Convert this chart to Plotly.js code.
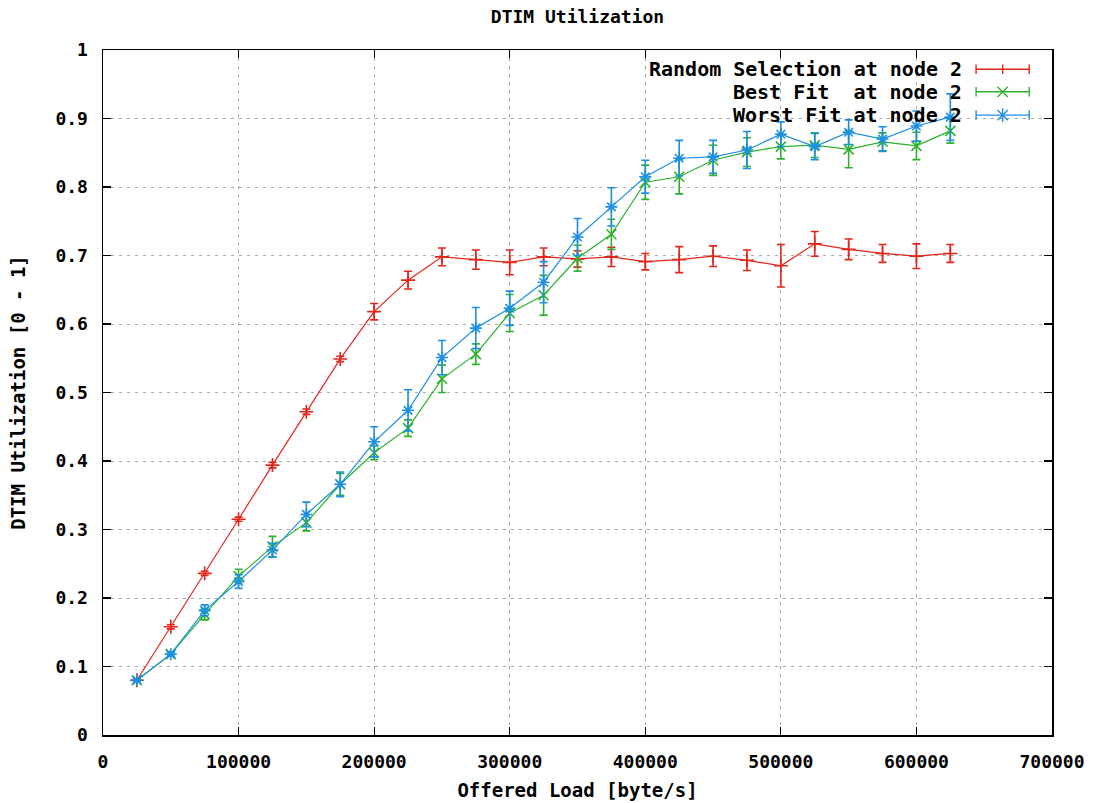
<!DOCTYPE html>
<html>
<head>
<meta charset="utf-8">
<script src="https://cdn.plot.ly/plotly-3.0.1.min.js"></script>
<style>html,body{margin:0;padding:0;background:#fff;}#chart{width:1098px;height:803px;}</style>
</head>
<body>
<div id="chart"></div>
<script>
// Offered load (byte/s)
const offeredLoad = [25000, 50000, 75000, 100000, 125000, 150000, 175000, 200000, 225000, 250000,
  275000, 300000, 325000, 350000, 375000, 400000, 425000, 450000, 475000, 500000,
  525000, 550000, 575000, 600000, 625000];

const randomSel = [0.080, 0.158, 0.236, 0.315, 0.394, 0.472, 0.549, 0.618, 0.664, 0.698,
  0.694, 0.690, 0.698, 0.695, 0.698, 0.691, 0.694, 0.699, 0.693, 0.685,
  0.717, 0.709, 0.703, 0.699, 0.703];
const randomErr = [0.002, 0.003, 0.003, 0.003, 0.004, 0.004, 0.004, 0.012, 0.013, 0.013,
  0.014, 0.018, 0.013, 0.012, 0.014, 0.012, 0.019, 0.015, 0.015, 0.031,
  0.018, 0.015, 0.013, 0.018, 0.013];

const bestFit = [0.080, 0.118, 0.176, 0.232, 0.275, 0.310, 0.366, 0.412, 0.448, 0.520,
  0.556, 0.616, 0.642, 0.696, 0.731, 0.807, 0.815, 0.839, 0.851, 0.859,
  0.861, 0.855, 0.866, 0.860, 0.882];
const bestErr = [0.002, 0.003, 0.008, 0.010, 0.015, 0.012, 0.016, 0.010, 0.012, 0.020,
  0.015, 0.027, 0.029, 0.019, 0.022, 0.025, 0.025, 0.022, 0.021, 0.018,
  0.018, 0.027, 0.013, 0.020, 0.018];

const worstFit = [0.080, 0.118, 0.182, 0.224, 0.270, 0.322, 0.366, 0.428, 0.474, 0.551,
  0.594, 0.623, 0.661, 0.727, 0.771, 0.815, 0.842, 0.844, 0.854, 0.877,
  0.859, 0.880, 0.870, 0.889, 0.902];
const worstErr = [0.002, 0.003, 0.008, 0.010, 0.010, 0.018, 0.018, 0.022, 0.030, 0.025,
  0.030, 0.025, 0.030, 0.027, 0.028, 0.024, 0.026, 0.024, 0.027, 0.018,
  0.019, 0.018, 0.018, 0.022, 0.034];

const seriesNames = ['Random Selection at node 2', 'Best Fit  at node 2', 'Worst Fit at node 2'];
const seriesColors = ['#e3261c', '#2cb22c', '#1c8fe3'];
const seriesSymbols = ['cross-thin-open', 'x-thin-open', 'asterisk-open'];

const monoFont = '"DejaVu Sans Mono", "Liberation Mono", monospace';

function mk(i, y, err) {
  return {
    type: 'scatter', mode: 'lines+markers', name: seriesNames[i],
    x: offeredLoad, y: y,
    line: {color: seriesColors[i], width: 1.2},
    marker: {symbol: seriesSymbols[i], size: 10, color: seriesColors[i], line: {color: seriesColors[i], width: 1.6}},
    error_y: {type: 'data', array: err, visible: true, color: seriesColors[i], thickness: 1.6, width: 4},
    showlegend: false
  };
}

const data = [mk(0, randomSel, randomErr), mk(1, bestFit, bestErr), mk(2, worstFit, worstErr)];

// legend drawn as annotations + shapes (text left of the sample, as in gnuplot)
const rowsY = [0.972, 0.939, 0.905];
const annotations = seriesNames.map((n, i) => ({
  xref: 'paper', yref: 'paper', x: 0.907, y: rowsY[i], xanchor: 'right', yanchor: 'middle',
  text: n.replace(/ /g, '&nbsp;'), showarrow: false,
  font: {family: monoFont, size: 20, color: '#000', weight: 'bold'}
}));
const shapes = [];
const lx0 = 0.920, lx1 = 0.976, lmid = 0.948;
seriesColors.forEach((c, i) => {
  const y = rowsY[i];
  shapes.push({type: 'line', xref: 'paper', yref: 'paper', x0: lx0, x1: lx1, y0: y, y1: y, line: {color: c, width: 1.4}});
  [lx0, lx1].forEach(xx => shapes.push({type: 'line', xref: 'paper', yref: 'paper', x0: xx, x1: xx, y0: y - 0.007, y1: y + 0.007, line: {color: c, width: 1.4}}));
  if (i === 0) {
    shapes.push({type: 'line', xref: 'paper', yref: 'paper', x0: lmid, x1: lmid, y0: y - 0.007, y1: y + 0.007, line: {color: c, width: 1.4}});
  } else {
    const dx = 0.0055, dy = 0.0075;
    shapes.push({type: 'line', xref: 'paper', yref: 'paper', x0: lmid - dx, x1: lmid + dx, y0: y - dy, y1: y + dy, line: {color: c, width: 1.4}});
    shapes.push({type: 'line', xref: 'paper', yref: 'paper', x0: lmid - dx, x1: lmid + dx, y0: y + dy, y1: y - dy, line: {color: c, width: 1.4}});
    if (i === 2) {
      shapes.push({type: 'line', xref: 'paper', yref: 'paper', x0: lmid, x1: lmid, y0: y - 0.010, y1: y + 0.010, line: {color: c, width: 1.4}});
    }
  }
});

const axisCommon = {
  showline: true, linecolor: '#000', linewidth: 1.5, mirror: 'ticks',
  ticks: 'inside', ticklen: 8, tickcolor: '#000', tickwidth: 1.2,
  showgrid: true, gridcolor: '#a8a8a8', griddash: '3px,5px', gridwidth: 1,
  zeroline: false, automargin: false,
  tickfont: {family: monoFont, size: 18, color: '#000', weight: 'bold'}
};

const layout = {
  width: 1098, height: 803,
  paper_bgcolor: '#fff', plot_bgcolor: '#fff',
  margin: {l: 103, r: 46, t: 50, b: 68},
  title: {text: 'DTIM Utilization', x: 0.5, xref: 'paper', y: 0.979, yref: 'container', yanchor: 'middle',
    font: {family: monoFont, size: 18, color: '#000', weight: 'bold'}},
  xaxis: Object.assign({}, axisCommon, {
    range: [0, 700000], dtick: 100000, tick0: 0, tickformat: 'd', ticklabelstandoff: 10,
    title: {text: 'Offered Load [byte/s]', standoff: 12, font: {family: monoFont, size: 19, color: '#000', weight: 'bold'}}
  }),
  yaxis: Object.assign({}, axisCommon, {
    range: [0, 1], dtick: 0.1, tick0: 0, ticklabelstandoff: 10,
    title: {text: 'DTIM Utilization [0 - 1]', standoff: 24, font: {family: monoFont, size: 19, color: '#000', weight: 'bold'}}
  }),
  annotations: annotations,
  shapes: shapes,
  showlegend: false
};

Plotly.newPlot('chart', data, layout, {displayModeBar: false, staticPlot: true});
</script>
</body>
</html>
